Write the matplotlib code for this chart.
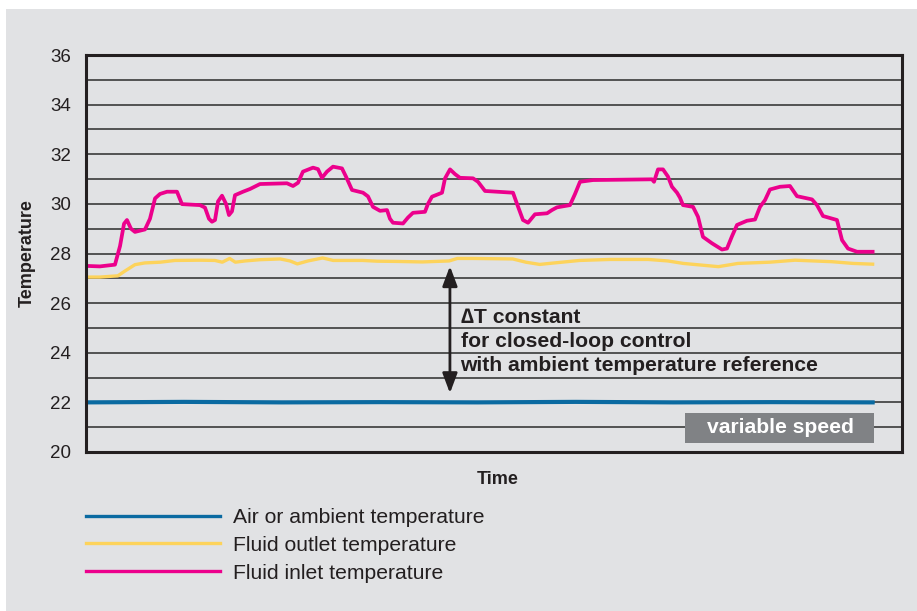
import matplotlib
matplotlib.use('Agg')
import matplotlib.pyplot as plt
from matplotlib.patches import Rectangle
from matplotlib.lines import Line2D

plt.rcParams['font.family'] = ['Liberation Sans', 'DejaVu Sans']

PANEL = '#e1e2e4'
INK = '#231f20'

# (time, temperature) readings; time in arbitrary units, 0..100 spans the plot
inlet = [
    (0.0, 27.5), (1.7, 27.48), (3.55, 27.55), (4.17, 28.3), (4.66, 29.2),
    (5.02, 29.35), (5.51, 29.0), (6.0, 28.87), (7.23, 28.97), (7.84, 29.4),
    (8.46, 30.22), (9.07, 30.4), (9.93, 30.49), (11.15, 30.49), (11.76, 29.99),
    (13.97, 29.95), (14.58, 29.85), (15.07, 29.4), (15.44, 29.28), (15.81, 29.35),
    (16.18, 30.1), (16.67, 30.33), (17.16, 30.0), (17.52, 29.55), (17.89, 29.7),
    (18.26, 30.35), (19.24, 30.49), (20.1, 30.6), (21.32, 30.8), (24.63, 30.83),
    (25.37, 30.72), (25.98, 30.85), (26.59, 31.3), (27.82, 31.46), (28.43, 31.4),
    (28.92, 31.05), (29.53, 31.3), (30.27, 31.5), (31.37, 31.43), (31.86, 31.1),
    (32.6, 30.56), (33.95, 30.45), (34.56, 30.3), (35.17, 29.88), (36.03, 29.72),
    (36.89, 29.75), (37.25, 29.4), (37.62, 29.24), (38.85, 29.21), (39.46, 29.45),
    (40.07, 29.64), (41.54, 29.68), (41.91, 30.0), (42.4, 30.29), (43.63, 30.45),
    (44.0, 31.03), (44.61, 31.39), (45.22, 31.2), (45.83, 31.05), (47.43, 31.03),
    (48.04, 30.89), (48.9, 30.52), (52.33, 30.45), (52.82, 30.0), (53.55, 29.35),
    (54.17, 29.24), (55.02, 29.58), (56.5, 29.62), (57.1, 29.75), (57.72, 29.86),
    (59.31, 29.95), (59.93, 30.4), (60.54, 30.89), (62.13, 30.96), (69.36, 30.99),
    (69.61, 30.89), (70.1, 31.39), (70.71, 31.39), (71.32, 31.1), (71.81, 30.69),
    (72.43, 30.45), (72.79, 30.25), (73.16, 29.95), (74.39, 29.88), (75.0, 29.48),
    (75.61, 28.67), (76.72, 28.41), (77.94, 28.16), (78.55, 28.2), (79.17, 28.7),
    (79.78, 29.15), (81.0, 29.32), (81.99, 29.37), (82.6, 29.88), (83.21, 30.15),
    (83.82, 30.58), (85.05, 30.69), (86.27, 30.72), (87.13, 30.31), (88.97, 30.18),
    (89.58, 29.95), (90.32, 29.51), (92.03, 29.35), (92.65, 28.54), (93.38, 28.2),
    (94.49, 28.07), (96.4, 28.07),
]

outlet = [
    (0.0, 27.05), (1.7, 27.05), (3.9, 27.1), (4.8, 27.3), (6.0, 27.55),
    (7.2, 27.62), (9.1, 27.65), (10.9, 27.72), (14.0, 27.73), (15.8, 27.72),
    (16.7, 27.65), (17.6, 27.8), (18.3, 27.65), (19.5, 27.7), (21.3, 27.75),
    (23.8, 27.78), (25.0, 27.7), (25.9, 27.58), (27.2, 27.7), (29.0, 27.82),
    (30.3, 27.72), (33.9, 27.72), (35.7, 27.69), (38.2, 27.68), (41.2, 27.66),
    (44.5, 27.7), (45.5, 27.8), (47.5, 27.8), (52.3, 27.78), (53.9, 27.65),
    (55.6, 27.56), (57.4, 27.62), (60.5, 27.72), (64.2, 27.76), (68.9, 27.76),
    (71.3, 27.7), (73.2, 27.6), (77.5, 27.47), (79.9, 27.6), (83.8, 27.65),
    (86.9, 27.73), (91.4, 27.67), (94.0, 27.6), (96.4, 27.57),
]

air = [
    (0.0, 22.0), (12.0, 22.02), (24.0, 22.0), (36.0, 22.01), (48.0, 22.0),
    (60.0, 22.02), (72.0, 22.0), (84.0, 22.01), (96.4, 22.0),
]

series_labels = ['Air or ambient temperature', 'Fluid outlet temperature',
                 'Fluid inlet temperature']
series_colors = ['#0a6aa1', '#fdd35b', '#ec008c']

y_ticks = [20, 22, 24, 26, 28, 30, 32, 34, 36]
y_grid = list(range(21, 36))

delta_lines = ['\u2206T constant', 'for closed-loop control',
               'with ambient temperature reference']

fig = plt.figure(figsize=(9.17, 6.11), dpi=100)
fig.patch.set_facecolor('white')
fig.add_artist(Rectangle((6 / 917, 0), 1, 1 - 9 / 611, transform=fig.transFigure,
                         facecolor=PANEL, edgecolor='none', zorder=0))

ax = fig.add_axes([86 / 917, 159 / 611, 816 / 917, 397 / 611])
ax.set_facecolor('none')

for yv in y_grid:
    ax.axhline(yv, color='#3a3a3a', lw=1.2, zorder=1)

for data, color, lw in zip([air, outlet, inlet], series_colors, [3.0, 2.4, 2.7]):
    t, v = zip(*data)
    ax.plot(t, v, color=color, lw=lw, zorder=3)

ax.set_xlim(0, 100)
ax.set_ylim(20, 36)
ax.set_xticks([])
ax.set_yticks(y_ticks)
ax.tick_params(axis='y', length=0, pad=11, labelsize=13.5, labelcolor=INK)
for s in ax.spines.values():
    s.set_linewidth(2.2)
    s.set_color(INK)
    s.set_zorder(5)

ax.set_ylabel('Temperature', fontsize=13, fontweight='bold', color=INK)
ax.yaxis.set_label_coords(-0.061, 0.5)
ax.set_xlabel('Time', fontsize=13, fontweight='bold', color=INK)
ax.xaxis.set_label_coords(0.505, -0.048)

# delta-T arrow between outlet and ambient
ax.annotate('', xy=(44.6, 27.49), xytext=(44.6, 22.37),
            arrowprops=dict(arrowstyle='<|-|>,head_length=1.2,head_width=0.45',
                            mutation_scale=10, lw=2, color=INK,
                            shrinkA=0, shrinkB=0), zorder=4)
for i, line in enumerate(delta_lines):
    ax.text(45.9, 25.2 - 0.97 * i, line, fontsize=15.2, fontweight='bold',
            color=INK, va='baseline', ha='left', zorder=4)

ax.add_patch(Rectangle((73.4, 20.37), 23.2, 1.22, facecolor='#808285',
                       edgecolor='none', zorder=4))
ax.text(85.05, 20.98, 'variable speed', fontsize=15.2, fontweight='bold',
        color='white', ha='center', va='center', zorder=5)

handles = [Line2D([], [], color=c, lw=2.4) for c in series_colors]
ax.legend(handles, series_labels, loc='upper left',
          bbox_to_anchor=(86 / 917, 1 - 508 / 611), bbox_transform=fig.transFigure,
          frameon=False, fontsize=15.2, handlelength=6.35, handletextpad=0.6,
          labelspacing=0.42, borderpad=0, borderaxespad=0, labelcolor=INK)

fig.savefig('out.png', dpi=100)
